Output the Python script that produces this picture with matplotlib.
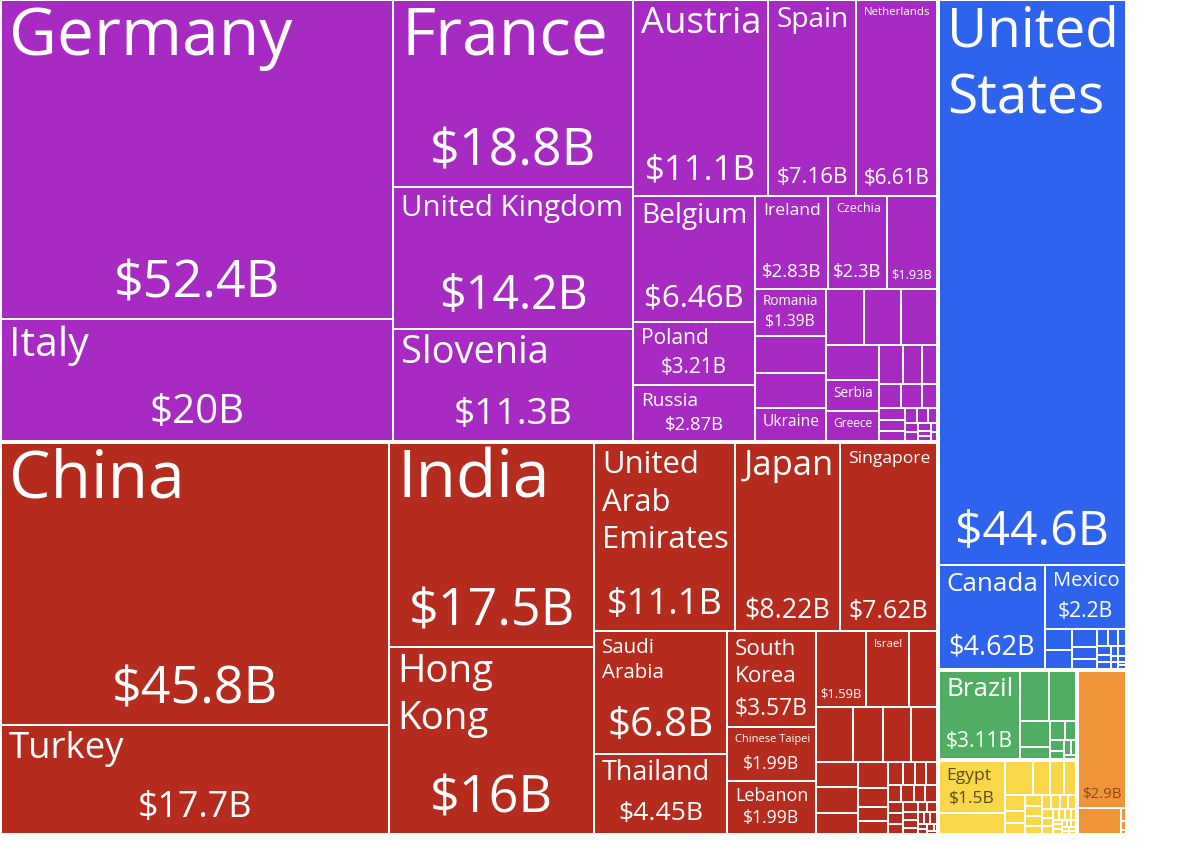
import matplotlib
matplotlib.use("Agg")
import matplotlib.pyplot as plt
from matplotlib.patches import Rectangle
from matplotlib.font_manager import FontProperties
from matplotlib.textpath import text_to_path

# --- data: trade partners by continent, values in billions of USD ---
# show: "nv" = name + value, "n" = name only, "v" = value only
eu_names = ["Germany", "Italy", "France", "United Kingdom", "Slovenia", "Austria", "Spain",
            "Netherlands", "Belgium", "Poland", "Russia", "Ireland", "Czechia", None,
            "Romania", "Ukraine", "Serbia", "Greece"]
eu_values = [52.4, 20.0, 18.8, 14.2, 11.3, 11.1, 7.16, 6.61, 6.46, 3.21, 2.87, 2.83, 2.3, 1.93,
             1.39, 1.0, 0.7, 0.68]
eu_show = ["nv"] * 13 + ["v", "nv", "n", "n", "n"]
eu_other = [1.1, 1.02, 0.9, 0.88, 0.85, 0.78, 0.38, 0.31, 0.24, 0.22, 0.2, 0.15, 0.13,
            0.12, 0.11, 0.08, 0.07, 0.06, 0.05, 0.05, 0.04, 0.03, 0.03, 0.02, 0.02]

as_names = ["China", "Turkey", "India", "Hong Kong", "United Arab Emirates", "Japan",
            "Singapore", "Saudi Arabia", "Thailand", "South Korea", "Chinese Taipei",
            "Lebanon", None, "Israel"]
as_values = [45.8, 17.7, 17.5, 16.0, 11.1, 8.22, 7.62, 6.8, 4.45, 3.57, 1.99, 1.99, 1.59, 1.38]
as_show = ["nv"] * 12 + ["v", "n"]
as_other = [0.87, 0.84, 0.70, 0.63, 0.59, 0.45, 0.45, 0.38, 0.33, 0.24, 0.17, 0.17,
            0.14, 0.12, 0.11, 0.10, 0.09, 0.09, 0.08, 0.08, 0.07, 0.07, 0.06, 0.06,
            0.05, 0.05, 0.04, 0.04, 0.04, 0.03, 0.03, 0.03, 0.02, 0.02, 0.02, 0.01, 0.01]

na_names = ["United States", "Canada", "Mexico"]
na_values = [44.6, 4.62, 2.2]
na_show = ["nv", "nv", "nv"]
na_other = [0.24, 0.21, 0.19, 0.13, 0.1, 0.08, 0.07, 0.06, 0.05, 0.04, 0.04, 0.03, 0.03,
            0.02, 0.02, 0.02, 0.01, 0.01]

sa_names = ["Brazil"]
sa_values = [3.11]
sa_show = ["nv"]
sa_other = [0.62, 0.58, 0.34, 0.145, 0.133, 0.089, 0.064, 0.05, 0.045, 0.03, 0.02]

af_names = ["Egypt"]
af_values = [1.5]
af_show = ["nv"]
af_other = [0.59, 0.42, 0.25, 0.21, 0.18, 0.14, 0.107, 0.097, 0.08, 0.075, 0.075, 0.06,
            0.055, 0.05, 0.05, 0.045, 0.04, 0.04, 0.035, 0.03, 0.03, 0.025, 0.025, 0.02,
            0.02, 0.02, 0.015, 0.015, 0.015, 0.01, 0.01, 0.01, 0.01]

oc_names = [None]
oc_values = [2.9]
oc_show = ["v"]
oc_other = [0.48, 0.03, 0.02, 0.01]

continents = [
    (eu_names, eu_values, eu_show, eu_other, "#A72BC2", "white"),
    (as_names, as_values, as_show, as_other, "#B52B1E", "white"),
    (na_names, na_values, na_show, na_other, "#2E63EE", "white"),
    (sa_names, sa_values, sa_show, sa_other, "#4FAE62", "white"),
    (af_names, af_values, af_show, af_other, "#F8D748", "#5E4B16"),
    (oc_names, oc_values, oc_show, oc_other, "#EF9438", "#8C4A14"),
]

# --- layout constants (pixels) ---
DPI = 100
FIG_W, FIG_H = 1200, 845
MAP_W, MAP_H = 1127, 836
FONT = "Open Sans"
PHI = (1 + 5 ** 0.5) / 2


def squarify(values, x0, y0, x1, y1, ratio=PHI):
    """Port of d3.treemapSquarify; values must be sorted descending."""
    rects = []
    n = len(values)
    i0 = i1 = 0
    value = float(sum(values))
    while i0 < n:
        dx, dy = x1 - x0, y1 - y0
        s = values[i1]
        i1 += 1
        vmin = vmax = s
        alpha = max(dy / dx, dx / dy) / (value * ratio)
        beta = s * s * alpha
        min_ratio = max(vmax / beta, beta / vmin)
        while i1 < n:
            v = values[i1]
            s += v
            vmin, vmax = min(vmin, v), max(vmax, v)
            beta = s * s * alpha
            new_ratio = max(vmax / beta, beta / vmin)
            if new_ratio > min_ratio:
                s -= v
                break
            min_ratio = new_ratio
            i1 += 1
        row = values[i0:i1]
        if dx < dy:
            h = dy * s / value if value else dy
            xx = x0
            for v in row:
                w = dx * v / s
                rects.append((xx, y0, xx + w, y0 + h))
                xx += w
            y0 += h
        else:
            w = dx * s / value if value else dx
            yy = y0
            for v in row:
                h = dy * v / s
                rects.append((x0, yy, x0 + w, yy + h))
                yy += h
            x0 += w
        value -= s
        i0 = i1
    return rects


_prop100 = FontProperties(family=FONT, size=100)
_wcache = {}


def text_width(s, size):
    if s not in _wcache:
        _wcache[s] = text_to_path.get_text_width_height_descent(s, _prop100, ismath=False)[0]
    return _wcache[s] * size / 100.0


def wrap(text, size, maxw):
    lines, cur = [], ""
    for word in text.split():
        trial = word if not cur else cur + " " + word
        if cur and text_width(trial, size) > maxw:
            lines.append(cur)
            cur = word
        else:
            cur = trial
    lines.append(cur)
    return lines


def fit_name(text, maxw, maxh, smax=66):
    size = smax
    while size >= 7:
        lines = wrap(text, size, maxw)
        if all(text_width(l, size) <= maxw for l in lines) and 1.2 * len(lines) * size <= maxh:
            return size, lines
        size -= 0.5
    return None, []


def fmt(v):
    return "${:.3g}B".format(v)


fig = plt.figure(figsize=(FIG_W / DPI, FIG_H / DPI), dpi=DPI)
ax = fig.add_axes([0, 0, 1, 1])
ax.set_xlim(0, FIG_W)
ax.set_ylim(FIG_H, 0)
ax.axis("off")

totals = [sum(c[1]) + sum(c[3]) for c in continents]
order = sorted(range(len(continents)), key=lambda i: -totals[i])
group_rects = squarify([totals[i] for i in order], 0, 0, MAP_W, MAP_H)

for gi, (gx0, gy0, gx1, gy1) in zip(order, group_rects):
    names, values, show, other, color, tcolor = continents[gi]
    leaves = list(zip(values, names, show)) + [(v, None, "") for v in other]
    leaves.sort(key=lambda t: -t[0])
    rects = squarify([t[0] for t in leaves], gx0 + 1, gy0 + 1, gx1 - 1, gy1 - 1)
    for (v, name, sh), (x0, y0, x1, y1) in zip(leaves, rects):
        ax.add_patch(Rectangle((x0 + 1, y0 + 1), x1 - x0 - 2, y1 - y0 - 2,
                               facecolor=color, edgecolor="none"))
        w, h = x1 - x0, y1 - y0
        sv = 0
        if "v" in sh:
            label = fmt(v)
            sv = min(52, 0.33 * h, 0.82 * w / text_width(label, 1))
            ax.text((x0 + x1) / 2, y1 - (0.3 * sv + 7), label, ha="center", va="baseline",
                    fontsize=sv * 72 / DPI, family=FONT, color=tcolor)
        if "n" in sh:
            padx = 7
            avail = h - 1.8 * sv if sv else h - 6
            sn, lines = fit_name(name, w - 2 * padx, avail)
            if sn:
                for k, line in enumerate(lines):
                    ax.text(x0 + padx + 1, y0 + 6 + 0.72 * sn + k * 1.22 * sn, line,
                            ha="left", va="baseline", fontsize=sn * 72 / DPI,
                            family=FONT, color=tcolor)

fig.savefig("out.png", dpi=DPI, facecolor="white")
